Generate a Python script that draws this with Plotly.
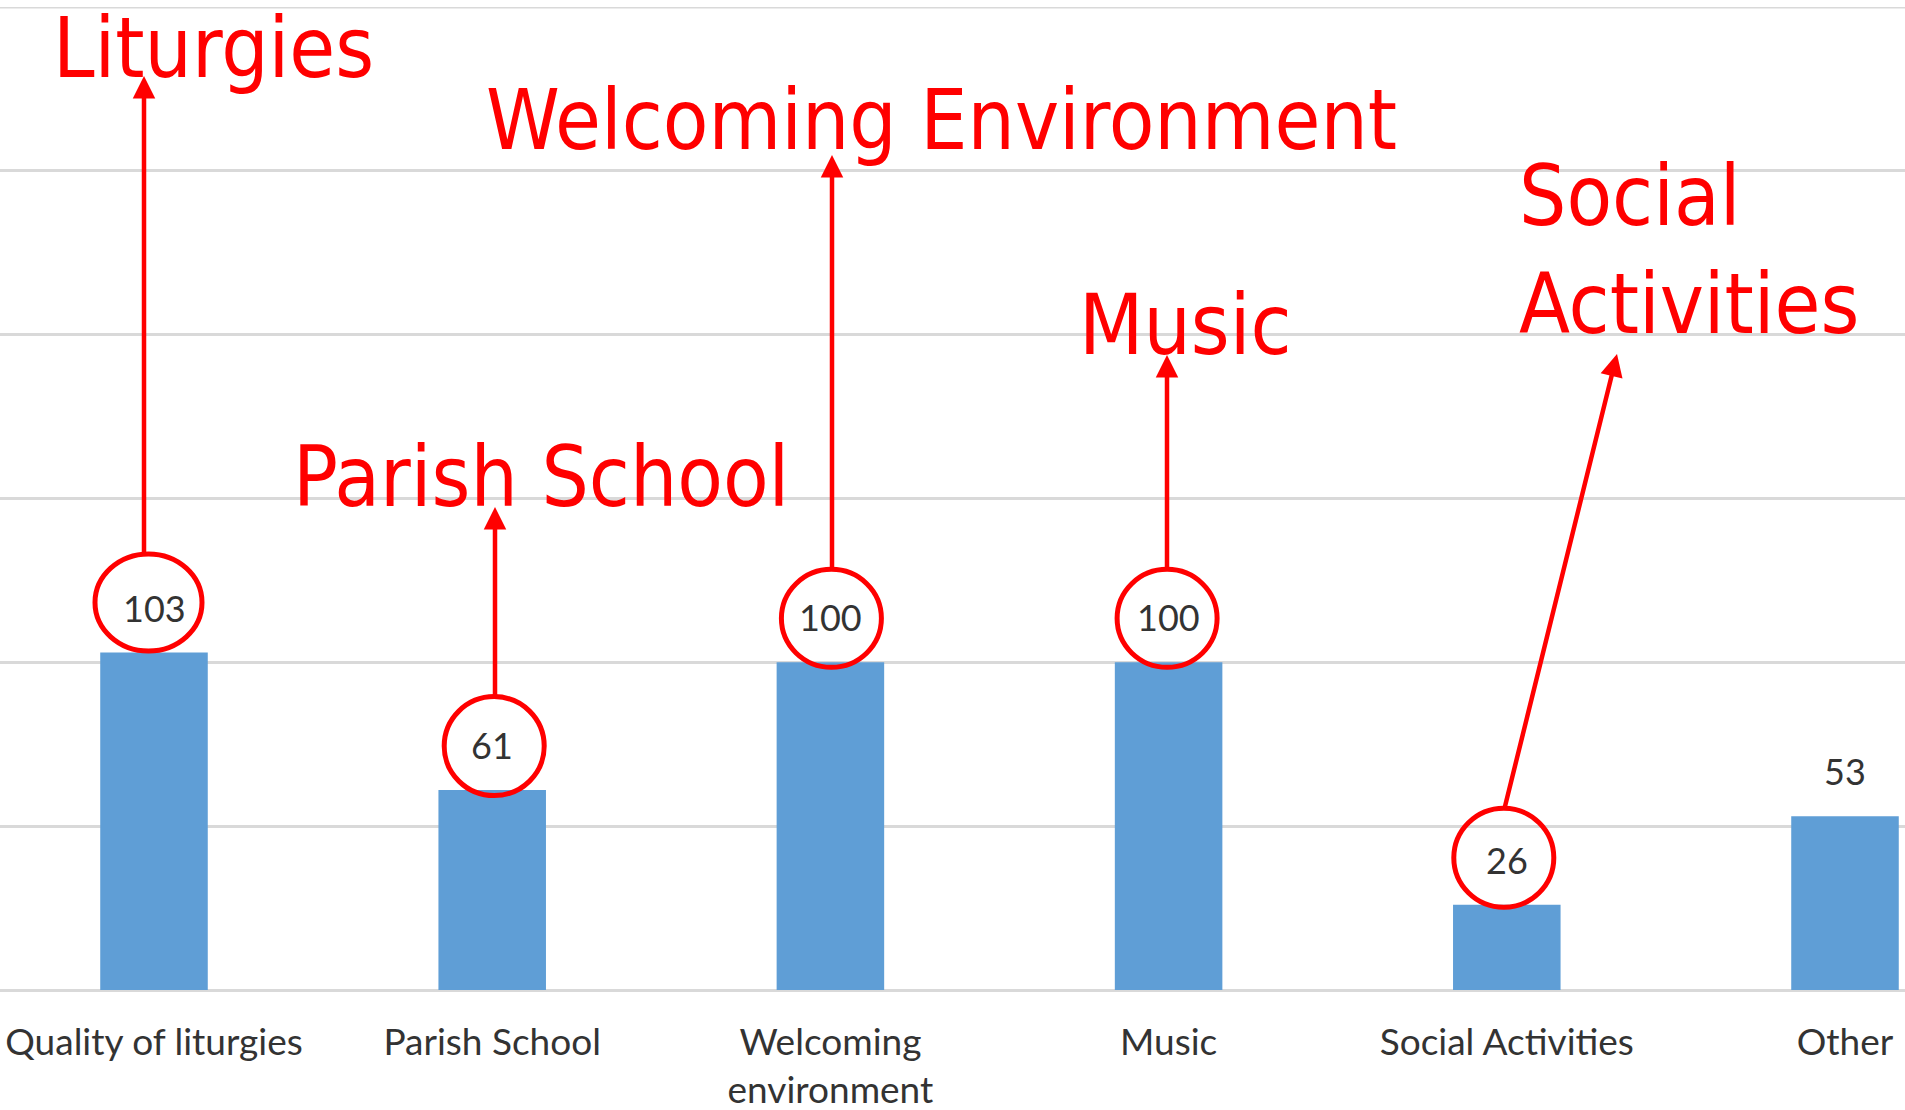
import plotly.graph_objects as go

# ---- data ----
categories = ["Quality of liturgies", "Parish School", "Welcoming environment",
              "Music", "Social Activities", "Other"]
tick_labels = ["Quality of liturgies", "Parish School", "Welcoming<br>environment",
               "Music", "Social Activities", "Other"]
values = [103, 61, 100, 100, 26, 53]
callout_titles = ["Liturgies", "Parish School", "Welcoming Environment",
                  "Music", "Social<br>Activities", None]

# ---- layout constants (pixels) ----
W, H = 1905, 1110
M_T, M_B = 7, 120
PLOT_H = H - M_T - M_B
Y_MAX = 300
PX_PER_UNIT = PLOT_H / Y_MAX
SPACING = 338.2
C0 = 154.0
X_RANGE = [-C0 / SPACING, (W - C0) / SPACING]


def ydata(py):
    return (H - M_B - py) / PX_PER_UNIT


def xdata(px):
    return (px - C0) / SPACING


BAR_COLOR = "#5F9ED6"
RED = "#FF0000"
TXT = "#333333"
LABEL_FONT = "Lato, Liberation Sans, sans-serif"

fig = go.Figure()
fig.add_trace(go.Bar(
    x=categories, y=values, width=0.318,
    marker=dict(color=BAR_COLOR, line=dict(width=0)),
    hoverinfo="x+y",
))

annotations = []
shapes = []

# data labels
for c, v in zip(categories, values):
    annotations.append(dict(
        x=c, y=v, xref="x", yref="y", text=str(v), showarrow=False,
        yanchor="middle", xanchor="center", yshift=45,
        font=dict(family=LABEL_FONT, size=36, color=TXT),
    ))

# circles around the highlighted labels: (dx, dy, rx, ry) px relative to bar top centre
circle_geom = [(-5.5, 50, 53.5, 48.5), (2, 44, 50, 49.5), (1, 44, 50, 49),
               (-1.5, 44, 50, 49), (-3, 47, 50, 49.5), None]
for i, (v, g) in enumerate(zip(values, circle_geom)):
    if g is None:
        continue
    dx, dy, rx, ry = g
    shapes.append(dict(
        type="circle", xref="x", yref="y", xsizemode="pixel", ysizemode="pixel",
        xanchor=i, yanchor=v,
        x0=dx - rx, x1=dx + rx, y0=dy - ry, y1=dy + ry,
        line=dict(color=RED, width=5), fillcolor="rgba(0,0,0,0)", layer="above",
    ))

# top gridline (range edge) drawn explicitly
shapes.append(dict(type="line", xref="paper", yref="y", x0=0, x1=1, y0=Y_MAX, y1=Y_MAX,
                   line=dict(color="#D9D9D9", width=3), layer="below"))

# arrows: tail (px) -> tip (px)
arrows = [((144, 554), (144, 76)),
          ((495, 697), (495, 507)),
          ((832, 569), (832, 155)),
          ((1167, 569), (1167, 355)),
          ((1504.6, 808), (1617, 354))]
for (tx, ty), (hx, hy) in arrows:
    annotations.append(dict(
        x=xdata(hx), y=ydata(hy), ax=xdata(tx), ay=ydata(ty),
        xref="x", yref="y", axref="x", ayref="y",
        text="", showarrow=True, arrowhead=2, arrowsize=1.0, arrowwidth=4.5,
        arrowcolor=RED, standoff=0, startstandoff=0,
    ))

# red callout titles: (center/left px x, mid px y, anchor)
RED_FONT = dict(family="DejaVu Sans Condensed, DejaVu Sans, sans-serif", size=83, color=RED)
title_pos = [(213.5, 48, "center"), (541, 477, "center"), (941, 120, "center"),
             (1185, 325, "center"), (1517, 250, "left")]
for t, (px, py, anc) in zip(callout_titles, title_pos):
    annotations.append(dict(
        x=xdata(px), y=ydata(py), xref="x", yref="y", text=t, showarrow=False,
        xanchor=anc, yanchor="middle", align="left", font=RED_FONT,
    ))

fig.update_layout(
    width=W, height=H,
    margin=dict(l=0, r=0, t=M_T, b=M_B, pad=0, autoexpand=False),
    paper_bgcolor="white", plot_bgcolor="white",
    showlegend=False,
    annotations=annotations, shapes=shapes,
)
fig.update_xaxes(
    range=X_RANGE, tickmode="array", tickvals=categories, ticktext=tick_labels,
    showgrid=False, showline=False, zeroline=False, ticks="", automargin=False,
    ticklabelstandoff=27,
    tickfont=dict(family=LABEL_FONT, size=37, color=TXT),
)
fig.update_yaxes(
    range=[0, Y_MAX], dtick=50, showgrid=True, gridcolor="#D9D9D9", gridwidth=3,
    zeroline=True, zerolinecolor="#D9D9D9", zerolinewidth=3, automargin=False,
    showticklabels=False, showline=False, ticks="",
)

fig.write_html(
    "out.html",
    config={"displayModeBar": False},
    post_script="document.body.style.margin='0';document.body.style.overflow='hidden';",
)
